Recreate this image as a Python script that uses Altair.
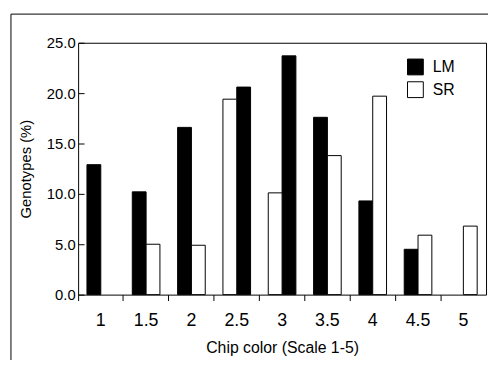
import altair as alt
import pandas as pd

categories = ["1", "1.5", "2", "2.5", "3", "3.5", "4", "4.5", "5"]
lm_values = [12.9, 10.2, 16.6, 20.6, 23.7, 17.6, 9.3, 4.5, 0.0]
sr_values = [0.0, 5.0, 4.9, 19.4, 10.1, 13.8, 19.7, 5.9, 6.8]
sr_first = ["2.5", "3"]  # categories where the SR bar is drawn left of LM
y_ticks = [0, 5, 10, 15, 20, 25]

rows = []
for c, lm, sr in zip(categories, lm_values, sr_values):
    swap = c in sr_first
    rows.append({"cat": c, "series": "LM", "value": lm, "slot": 1 if swap else 0})
    rows.append({"cat": c, "series": "SR", "value": sr, "slot": 0 if swap else 1})
df = pd.DataFrame(rows)

W, H = 413, 255
FONT = "Liberation Sans"

x_enc = alt.X("cat:N", sort=categories,
              scale=alt.Scale(paddingInner=0, paddingOuter=0),
              axis=alt.Axis(title="Chip color (Scale 1-5)", labelAngle=0,
                            bandPosition=0, tickSize=6, tickColor="black",
                            domain=False, labelFontSize=18, labelColor="black",
                            labelPadding=11, titleFontSize=16, titleFontWeight="normal",
                            titleColor="black", titlePadding=11, grid=False,
                            labelFont=FONT, titleFont=FONT))
xoff = alt.XOffset("slot:O", scale=alt.Scale(domain=[0, 1], paddingOuter=0.64, paddingInner=0))
y_scale = alt.Scale(domain=[0, 25], nice=False)

bars = alt.Chart(df).transform_filter("datum.value > 0").mark_bar(
    stroke="black", strokeWidth=1
).encode(
    x=x_enc,
    xOffset=xoff,
    y=alt.Y("value:Q", scale=y_scale,
            axis=alt.Axis(title="Genotypes (%)", values=y_ticks, format=".1f",
                          ticks=False, domain=False, grid=False, labelFontSize=15,
                          labelColor="black", labelPadding=3, titleFontSize=15,
                          titleFontWeight="normal", titleColor="black",
                          titlePadding=13, labelFont=FONT, titleFont=FONT)),
    color=alt.Color("series:N", scale=alt.Scale(domain=["LM", "SR"], range=["black", "white"]),
                    legend=alt.Legend(title=None, orient="none", legendX=333, legendY=16,
                                      symbolType="square", symbolSize=256,
                                      symbolStrokeColor="black", symbolStrokeWidth=1,
                                      labelFontSize=16, labelColor="black", labelFont=FONT,
                                      labelOffset=9, rowPadding=2)),
)

inner_ticks = alt.Chart(df).mark_bar(opacity=0).encode(
    x=x_enc,
    xOffset=xoff,
    y=alt.Y("value:Q", scale=y_scale,
            axis=alt.Axis(title=None, orient="right", offset=-W, values=y_ticks,
                          labels=False, domain=False, grid=False, tickSize=6,
                          tickColor="black")),
)

border = alt.Chart(pd.DataFrame({"a": [0]})).mark_rect(
    fill=None, stroke="black", strokeWidth=1, clip=False
).encode(x=alt.value(-68), y=alt.value(-29), x2=alt.value(W + 40), y2=alt.value(H + 120))

chart = alt.layer(bars, inner_ticks, border).resolve_axis(y="independent").properties(
    width=W, height=H,
    background="white",
    autosize=alt.AutoSizeParams(type="none"),
    padding={"left": 71, "top": 33, "right": 2, "bottom": 64},
).configure_view(stroke="black", strokeWidth=1)

chart.save("out.html", embed_options={"renderer": "svg", "actions": False})
